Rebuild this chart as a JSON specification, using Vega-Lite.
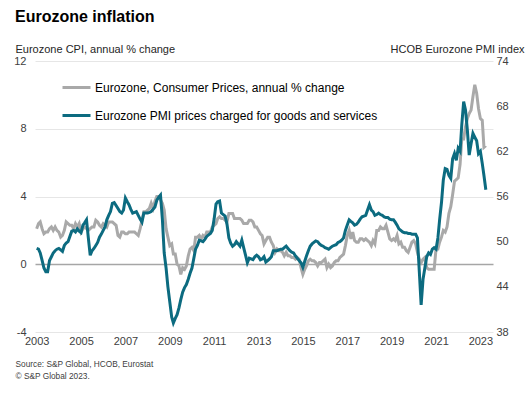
{
"$schema": "https://vega.github.io/schema/vega-lite/v6.json",
"width": 458, "height": 271,
"autosize": {"type": "none"},
"padding": {"left": 35, "top": 61, "right": 37, "bottom": 67},
"background": "white",
"config": {"font": "Liberation Sans", "view": {"stroke": null},
  "axis": {"labelFont": "Liberation Sans", "labelFontSize": 11, "labelColor": "#404040", "titleFont": "Liberation Sans", "titleFontSize": 11, "titleFontWeight": "normal", "titleColor": "#262626", "domain": false, "ticks": false}},
"title": {"text": "Eurozone inflation", "anchor": "start", "frame": "group", "fontSize": 16, "fontWeight": "bold", "color": "#000000", "font": "Liberation Sans", "dx": -20, "offset": 18},
"data": {"values": [
{"d":"2003-01-01","cpi":2.1,"pmi":49.1},{"d":"2003-02-01","cpi":2.4,"pmi":49.0},{"d":"2003-03-01","cpi":2.5,"pmi":48.5},{"d":"2003-04-01","cpi":2.1,"pmi":47.5},{"d":"2003-05-01","cpi":1.8,"pmi":46.5},{"d":"2003-06-01","cpi":1.9,"pmi":46.0},{"d":"2003-07-01","cpi":1.9,"pmi":46.0},{"d":"2003-08-01","cpi":2.1,"pmi":47.5},{"d":"2003-09-01","cpi":2.2,"pmi":48.0},{"d":"2003-10-01","cpi":2.0,"pmi":48.5},{"d":"2003-11-01","cpi":2.2,"pmi":48.8},{"d":"2003-12-01","cpi":2.0,"pmi":49.0},
{"d":"2004-01-01","cpi":1.9,"pmi":49.1},{"d":"2004-02-01","cpi":1.6,"pmi":48.9},{"d":"2004-03-01","cpi":1.7,"pmi":48.7},{"d":"2004-04-01","cpi":2.0,"pmi":49.5},{"d":"2004-05-01","cpi":2.5,"pmi":49.8},{"d":"2004-06-01","cpi":2.4,"pmi":50.0},{"d":"2004-07-01","cpi":2.3,"pmi":50.7},{"d":"2004-08-01","cpi":2.3,"pmi":51.4},{"d":"2004-09-01","cpi":2.1,"pmi":51.5},{"d":"2004-10-01","cpi":2.4,"pmi":51.3},{"d":"2004-11-01","cpi":2.2,"pmi":51.7},{"d":"2004-12-01","cpi":2.4,"pmi":51.4},
{"d":"2005-01-01","cpi":1.9,"pmi":51.2},{"d":"2005-02-01","cpi":2.1,"pmi":52.2},{"d":"2005-03-01","cpi":2.2,"pmi":52.5},{"d":"2005-04-01","cpi":2.1,"pmi":52.9},{"d":"2005-05-01","cpi":2.0,"pmi":50.5},{"d":"2005-06-01","cpi":2.1,"pmi":48.2},{"d":"2005-07-01","cpi":2.2,"pmi":48.8},{"d":"2005-08-01","cpi":2.2,"pmi":49.1},{"d":"2005-09-01","cpi":2.6,"pmi":49.5},{"d":"2005-10-01","cpi":2.5,"pmi":49.9},{"d":"2005-11-01","cpi":2.3,"pmi":50.6},{"d":"2005-12-01","cpi":2.2,"pmi":51.0},
{"d":"2006-01-01","cpi":2.4,"pmi":51.5},{"d":"2006-02-01","cpi":2.3,"pmi":52.0},{"d":"2006-03-01","cpi":2.2,"pmi":52.9},{"d":"2006-04-01","cpi":2.5,"pmi":53.5},{"d":"2006-05-01","cpi":2.5,"pmi":54.0},{"d":"2006-06-01","cpi":2.5,"pmi":55.1},{"d":"2006-07-01","cpi":2.4,"pmi":55.2},{"d":"2006-08-01","cpi":2.3,"pmi":54.8},{"d":"2006-09-01","cpi":1.7,"pmi":54.4},{"d":"2006-10-01","cpi":1.6,"pmi":54.0},{"d":"2006-11-01","cpi":1.9,"pmi":53.8},{"d":"2006-12-01","cpi":1.9,"pmi":54.2},
{"d":"2007-01-01","cpi":1.8,"pmi":55.8},{"d":"2007-02-01","cpi":1.8,"pmi":55.3},{"d":"2007-03-01","cpi":1.9,"pmi":54.9},{"d":"2007-04-01","cpi":1.9,"pmi":54.3},{"d":"2007-05-01","cpi":1.9,"pmi":53.8},{"d":"2007-06-01","cpi":1.9,"pmi":53.9},{"d":"2007-07-01","cpi":1.8,"pmi":54.0},{"d":"2007-08-01","cpi":1.7,"pmi":53.5},{"d":"2007-09-01","cpi":2.1,"pmi":53.0},{"d":"2007-10-01","cpi":2.6,"pmi":52.6},{"d":"2007-11-01","cpi":3.1,"pmi":53.8},{"d":"2007-12-01","cpi":3.1,"pmi":53.8},
{"d":"2008-01-01","cpi":3.2,"pmi":53.8},{"d":"2008-02-01","cpi":3.3,"pmi":53.9},{"d":"2008-03-01","cpi":3.6,"pmi":54.0},{"d":"2008-04-01","cpi":3.3,"pmi":54.3},{"d":"2008-05-01","cpi":3.7,"pmi":54.6},{"d":"2008-06-01","cpi":4.0,"pmi":55.5},{"d":"2008-07-01","cpi":4.0,"pmi":55.9},{"d":"2008-08-01","cpi":3.8,"pmi":56.2},{"d":"2008-09-01","cpi":3.6,"pmi":53.0},{"d":"2008-10-01","cpi":3.2,"pmi":48.5},{"d":"2008-11-01","cpi":2.1,"pmi":46.5},{"d":"2008-12-01","cpi":1.6,"pmi":44.0},
{"d":"2009-01-01","cpi":1.1,"pmi":42.0},{"d":"2009-02-01","cpi":1.2,"pmi":40.0},{"d":"2009-03-01","cpi":0.6,"pmi":39.2},{"d":"2009-04-01","cpi":0.6,"pmi":39.8},{"d":"2009-05-01","cpi":0.0,"pmi":40.3},{"d":"2009-06-01","cpi":-0.1,"pmi":41.2},{"d":"2009-07-01","cpi":-0.6,"pmi":42.3},{"d":"2009-08-01","cpi":-0.2,"pmi":43.3},{"d":"2009-09-01","cpi":-0.3,"pmi":43.9},{"d":"2009-10-01","cpi":-0.1,"pmi":44.3},{"d":"2009-11-01","cpi":0.5,"pmi":45.0},{"d":"2009-12-01","cpi":0.9,"pmi":45.8},
{"d":"2010-01-01","cpi":1.0,"pmi":46.5},{"d":"2010-02-01","cpi":0.8,"pmi":47.8},{"d":"2010-03-01","cpi":1.6,"pmi":49.0},{"d":"2010-04-01","cpi":1.6,"pmi":49.5},{"d":"2010-05-01","cpi":1.7,"pmi":50.2},{"d":"2010-06-01","cpi":1.5,"pmi":50.1},{"d":"2010-07-01","cpi":1.7,"pmi":50.0},{"d":"2010-08-01","cpi":1.6,"pmi":50.3},{"d":"2010-09-01","cpi":1.9,"pmi":50.7},{"d":"2010-10-01","cpi":1.9,"pmi":50.9},{"d":"2010-11-01","cpi":1.9,"pmi":51.1},{"d":"2010-12-01","cpi":2.2,"pmi":51.5},
{"d":"2011-01-01","cpi":2.3,"pmi":53.0},{"d":"2011-02-01","cpi":2.4,"pmi":55.0},{"d":"2011-03-01","cpi":2.7,"pmi":55.3},{"d":"2011-04-01","cpi":2.8,"pmi":55.4},{"d":"2011-05-01","cpi":2.7,"pmi":53.8},{"d":"2011-06-01","cpi":2.7,"pmi":53.6},{"d":"2011-07-01","cpi":2.6,"pmi":53.4},{"d":"2011-08-01","cpi":2.5,"pmi":52.3},{"d":"2011-09-01","cpi":3.0,"pmi":50.5},{"d":"2011-10-01","cpi":3.0,"pmi":49.8},{"d":"2011-11-01","cpi":3.0,"pmi":49.4},{"d":"2011-12-01","cpi":2.7,"pmi":49.6},
{"d":"2012-01-01","cpi":2.7,"pmi":50.0},{"d":"2012-02-01","cpi":2.7,"pmi":49.7},{"d":"2012-03-01","cpi":2.7,"pmi":49.4},{"d":"2012-04-01","cpi":2.6,"pmi":50.2},{"d":"2012-05-01","cpi":2.4,"pmi":49.2},{"d":"2012-06-01","cpi":2.4,"pmi":48.2},{"d":"2012-07-01","cpi":2.4,"pmi":47.2},{"d":"2012-08-01","cpi":2.6,"pmi":47.8},{"d":"2012-09-01","cpi":2.6,"pmi":47.7},{"d":"2012-10-01","cpi":2.5,"pmi":47.6},{"d":"2012-11-01","cpi":2.2,"pmi":48.0},{"d":"2012-12-01","cpi":2.2,"pmi":48.2},
{"d":"2013-01-01","cpi":2.0,"pmi":48.0},{"d":"2013-02-01","cpi":1.8,"pmi":47.6},{"d":"2013-03-01","cpi":1.7,"pmi":47.7},{"d":"2013-04-01","cpi":1.2,"pmi":48.0},{"d":"2013-05-01","cpi":1.4,"pmi":47.3},{"d":"2013-06-01","cpi":1.6,"pmi":47.5},{"d":"2013-07-01","cpi":1.6,"pmi":47.7},{"d":"2013-08-01","cpi":1.3,"pmi":48.0},{"d":"2013-09-01","cpi":1.1,"pmi":48.8},{"d":"2013-10-01","cpi":0.7,"pmi":48.8},{"d":"2013-11-01","cpi":0.9,"pmi":48.8},{"d":"2013-12-01","cpi":0.8,"pmi":48.9},
{"d":"2014-01-01","cpi":0.8,"pmi":49.0},{"d":"2014-02-01","cpi":0.7,"pmi":49.0},{"d":"2014-03-01","cpi":0.5,"pmi":49.2},{"d":"2014-04-01","cpi":0.7,"pmi":49.4},{"d":"2014-05-01","cpi":0.5,"pmi":49.1},{"d":"2014-06-01","cpi":0.5,"pmi":48.8},{"d":"2014-07-01","cpi":0.4,"pmi":48.6},{"d":"2014-08-01","cpi":0.4,"pmi":48.5},{"d":"2014-09-01","cpi":0.3,"pmi":48.1},{"d":"2014-10-01","cpi":0.4,"pmi":47.8},{"d":"2014-11-01","cpi":0.3,"pmi":47.5},{"d":"2014-12-01","cpi":-0.2,"pmi":47.2},
{"d":"2015-01-01","cpi":-0.6,"pmi":46.6},{"d":"2015-02-01","cpi":-0.3,"pmi":47.4},{"d":"2015-03-01","cpi":-0.1,"pmi":48.1},{"d":"2015-04-01","cpi":0.2,"pmi":48.8},{"d":"2015-05-01","cpi":0.3,"pmi":49.4},{"d":"2015-06-01","cpi":0.2,"pmi":49.7},{"d":"2015-07-01","cpi":0.2,"pmi":49.9},{"d":"2015-08-01","cpi":0.1,"pmi":50.1},{"d":"2015-09-01","cpi":-0.1,"pmi":50.0},{"d":"2015-10-01","cpi":0.1,"pmi":49.7},{"d":"2015-11-01","cpi":0.1,"pmi":49.5},{"d":"2015-12-01","cpi":0.2,"pmi":49.4},
{"d":"2016-01-01","cpi":0.3,"pmi":49.2},{"d":"2016-02-01","cpi":-0.2,"pmi":49.1},{"d":"2016-03-01","cpi":0.0,"pmi":49.0},{"d":"2016-04-01","cpi":-0.2,"pmi":49.2},{"d":"2016-05-01","cpi":-0.1,"pmi":49.4},{"d":"2016-06-01","cpi":0.1,"pmi":49.5},{"d":"2016-07-01","cpi":0.2,"pmi":49.6},{"d":"2016-08-01","cpi":0.2,"pmi":49.9},{"d":"2016-09-01","cpi":0.4,"pmi":50.0},{"d":"2016-10-01","cpi":0.5,"pmi":50.2},{"d":"2016-11-01","cpi":0.6,"pmi":50.5},{"d":"2016-12-01","cpi":1.1,"pmi":51.5},
{"d":"2017-01-01","cpi":1.7,"pmi":52.2},{"d":"2017-02-01","cpi":2.0,"pmi":52.9},{"d":"2017-03-01","cpi":1.5,"pmi":52.7},{"d":"2017-04-01","cpi":1.9,"pmi":52.5},{"d":"2017-05-01","cpi":1.4,"pmi":52.2},{"d":"2017-06-01","cpi":1.3,"pmi":52.3},{"d":"2017-07-01","cpi":1.3,"pmi":52.6},{"d":"2017-08-01","cpi":1.5,"pmi":53.0},{"d":"2017-09-01","cpi":1.5,"pmi":53.3},{"d":"2017-10-01","cpi":1.4,"pmi":53.4},{"d":"2017-11-01","cpi":1.5,"pmi":53.5},{"d":"2017-12-01","cpi":1.4,"pmi":54.2},
{"d":"2018-01-01","cpi":1.3,"pmi":54.9},{"d":"2018-02-01","cpi":1.1,"pmi":54.2},{"d":"2018-03-01","cpi":1.4,"pmi":54.0},{"d":"2018-04-01","cpi":1.2,"pmi":53.5},{"d":"2018-05-01","cpi":2.0,"pmi":53.6},{"d":"2018-06-01","cpi":2.0,"pmi":53.8},{"d":"2018-07-01","cpi":2.2,"pmi":53.6},{"d":"2018-08-01","cpi":2.1,"pmi":53.5},{"d":"2018-09-01","cpi":2.1,"pmi":53.3},{"d":"2018-10-01","cpi":2.3,"pmi":53.2},{"d":"2018-11-01","cpi":1.9,"pmi":53.2},{"d":"2018-12-01","cpi":1.5,"pmi":53.0},
{"d":"2019-01-01","cpi":1.4,"pmi":52.9},{"d":"2019-02-01","cpi":1.5,"pmi":52.9},{"d":"2019-03-01","cpi":1.4,"pmi":52.6},{"d":"2019-04-01","cpi":1.7,"pmi":52.2},{"d":"2019-05-01","cpi":1.2,"pmi":51.7},{"d":"2019-06-01","cpi":1.3,"pmi":51.5},{"d":"2019-07-01","cpi":1.0,"pmi":51.3},{"d":"2019-08-01","cpi":1.0,"pmi":51.2},{"d":"2019-09-01","cpi":0.8,"pmi":51.2},{"d":"2019-10-01","cpi":0.7,"pmi":51.1},{"d":"2019-11-01","cpi":1.0,"pmi":51.1},{"d":"2019-12-01","cpi":1.3,"pmi":51.0},
{"d":"2020-01-01","cpi":1.4,"pmi":51.0},{"d":"2020-02-01","cpi":1.2,"pmi":51.0},{"d":"2020-03-01","cpi":0.7,"pmi":50.5},{"d":"2020-04-01","cpi":0.3,"pmi":46.0},{"d":"2020-05-01","cpi":0.1,"pmi":41.6},{"d":"2020-06-01","cpi":0.3,"pmi":45.0},{"d":"2020-07-01","cpi":0.4,"pmi":46.5},{"d":"2020-08-01","cpi":-0.2,"pmi":48.0},{"d":"2020-09-01","cpi":-0.3,"pmi":48.5},{"d":"2020-10-01","cpi":-0.3,"pmi":48.3},{"d":"2020-11-01","cpi":-0.3,"pmi":49.0},{"d":"2020-12-01","cpi":-0.3,"pmi":49.2},
{"d":"2021-01-01","cpi":0.9,"pmi":49.0},{"d":"2021-02-01","cpi":0.9,"pmi":50.5},{"d":"2021-03-01","cpi":1.3,"pmi":52.9},{"d":"2021-04-01","cpi":1.6,"pmi":55.2},{"d":"2021-05-01","cpi":2.0,"pmi":58.2},{"d":"2021-06-01","cpi":1.9,"pmi":59.7},{"d":"2021-07-01","cpi":2.2,"pmi":59.6},{"d":"2021-08-01","cpi":3.0,"pmi":58.8},{"d":"2021-09-01","cpi":3.4,"pmi":58.4},{"d":"2021-10-01","cpi":4.1,"pmi":61.0},{"d":"2021-11-01","cpi":4.9,"pmi":61.7},{"d":"2021-12-01","cpi":5.0,"pmi":60.8},
{"d":"2022-01-01","cpi":5.1,"pmi":62.4},{"d":"2022-02-01","cpi":5.9,"pmi":62.0},{"d":"2022-03-01","cpi":7.4,"pmi":65.5},{"d":"2022-04-01","cpi":7.4,"pmi":68.6},{"d":"2022-05-01","cpi":8.1,"pmi":67.5},{"d":"2022-06-01","cpi":8.6,"pmi":64.8},{"d":"2022-07-01","cpi":8.9,"pmi":61.5},{"d":"2022-08-01","cpi":9.1,"pmi":63.0},{"d":"2022-09-01","cpi":9.9,"pmi":64.4},{"d":"2022-10-01","cpi":10.6,"pmi":63.9},{"d":"2022-11-01","cpi":10.1,"pmi":63.4},{"d":"2022-12-01","cpi":9.2,"pmi":61.7},
{"d":"2023-01-01","cpi":8.6,"pmi":62.0},{"d":"2023-02-01","cpi":8.5,"pmi":60.4},{"d":"2023-03-01","cpi":6.9,"pmi":58.8},{"d":"2023-04-01","cpi":7.0,"pmi":56.9}
]},
"encoding": {
  "x": {"field": "d", "type": "temporal",
    "scale": {"domain": [{"year": 2002, "month": 12, "date": 5}, {"year": 2023, "month": 7, "date": 28}]},
    "axis": {"values": [{"year":2003,"month":1,"date":1},{"year":2005,"month":1,"date":1},{"year":2007,"month":1,"date":1},{"year":2009,"month":1,"date":1},{"year":2011,"month":1,"date":1},{"year":2013,"month":1,"date":1},{"year":2015,"month":1,"date":1},{"year":2017,"month":1,"date":1},{"year":2019,"month":1,"date":1},{"year":2021,"month":1,"date":1},{"year":2023,"month":1,"date":1}],
      "format": "%Y", "grid": false, "labelPadding": 9, "labelBaseline": "middle", "labelFlush": false,
      "title": ["Source: S&P Global, HCOB, Eurostat", "© S&P Global 2023."],
      "titleFontSize": 8.3, "titleColor": "#404040", "titleAlign": "left", "titleAnchor": "start", "titleAngle": 0, "titleX": -20, "titleY": 34, "titleBaseline": "alphabetic", "titleLineHeight": 12}
  }
},
"layer": [
  {"mark": {"type": "line", "strokeWidth": 3, "interpolate": "linear"},
   "encoding": {
     "y": {"field": "cpi", "type": "quantitative", "scale": {"domain": [-4, 12], "nice": false, "zero": false},
       "axis": {"orient": "left", "values": [-4, 0, 4, 8, 12], "grid": true,
         "labelExpr": "replace(datum.label, '\u2212', '-')",
         "gridColor": {"condition": {"test": "datum.value === 0", "value": "#A6A6A6"}, "value": "#E6E6E6"},
         "gridWidth": {"condition": {"test": "datum.value === 0", "value": 1.5}, "value": 1},
         "labelPadding": 9,
         "title": "Eurozone CPI, annual % change", "titleAngle": 0, "titleAlign": "left", "titleAnchor": "start", "titleX": -20, "titleY": -9, "titleBaseline": "alphabetic"}},
     "color": {"datum": "Eurozone, Consumer Prices, annual % change",
       "scale": {"domain": ["Eurozone, Consumer Prices, annual % change", "Eurozone PMI prices charged for goods and services"], "range": ["#A9A9A9", "#0C6B80"]},
       "legend": {"orient": "none", "legendX": 26, "legendY": 11, "direction": "vertical", "title": null, "symbolType": "stroke", "symbolSize": 784, "symbolStrokeWidth": 3, "labelFontSize": 12, "labelColor": "#000000", "labelFont": "Liberation Sans", "labelOffset": 3, "rowPadding": 6, "padding": 0, "labelLimit": 400}}
   }},
  {"mark": {"type": "line", "strokeWidth": 3, "interpolate": "linear"},
   "encoding": {
     "y": {"field": "pmi", "type": "quantitative", "scale": {"domain": [38, 74], "nice": false, "zero": false},
       "axis": {"orient": "right", "values": [38, 44, 50, 56, 62, 68, 74], "grid": false, "labelPadding": 3,
         "title": "HCOB Eurozone PMI index", "titleAngle": 0, "titleAlign": "right", "titleAnchor": "end", "titleX": 31, "titleY": -9, "titleBaseline": "alphabetic"}},
     "color": {"datum": "Eurozone PMI prices charged for goods and services"}
   }}
],
"resolve": {"scale": {"y": "independent"}}
}
